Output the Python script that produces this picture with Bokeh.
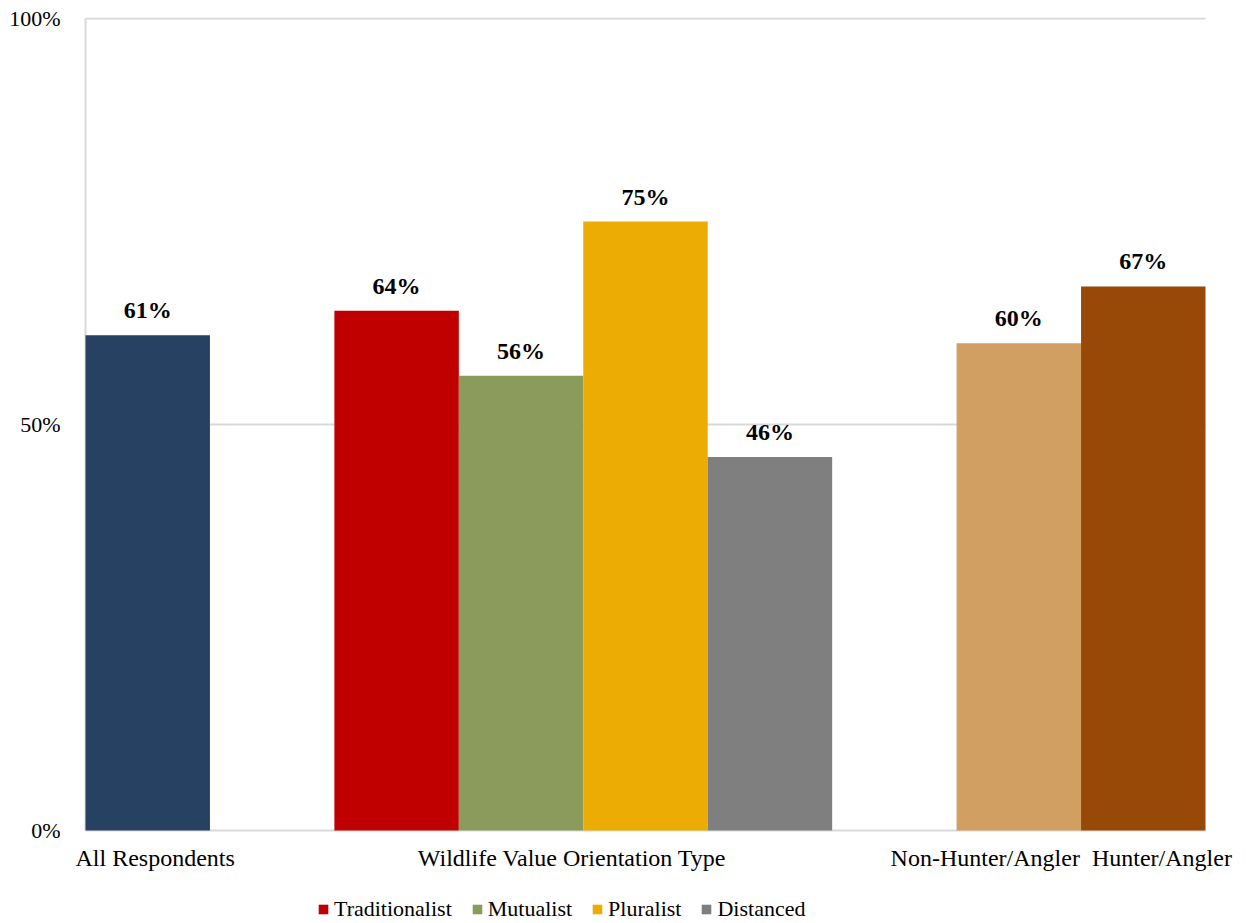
from bokeh.plotting import figure
from bokeh.models import (ColumnDataSource, Range1d, FixedTicker, Legend,
                          LegendItem, CustomJSTickFormatter)
from bokeh.core.properties import value
from bokeh.embed import file_html
from bokeh.resources import INLINE

# Share of respondents (%) by group
overall_label = "All Respondents"
overall_value = [61]
wvo_types = ["Traditionalist", "Mutualist", "Pluralist", "Distanced"]
wvo_values = [64, 56, 75, 46]
hunt_groups = ["Non-Hunter/Angler", "Hunter/Angler"]
hunt_values = [60, 67]
group_titles = ["All Respondents", "Wildlife Value Orientation Type",
                "Non-Hunter/Angler", "Hunter/Angler"]
y_ticks = [0, 50, 100]

overall_color = ["#264162"]
wvo_colors = ["#C00000", "#8A9B5B", "#EDAC03", "#7F7F7F"]
hunt_colors = ["#D19F62", "#984807"]

FONT = "Liberation Serif"
GRID = "#D9D9D9"

# The frame covers the whole area right of the tick labels and down to the
# canvas bottom, so titles and legend below the zero line are not clipped.
PX = 8.12      # px per percentage point
PXX = 124.44   # px per bar slot
p = figure(width=1246, height=923, output_backend="svg", toolbar_location=None,
           x_axis_location=None,
           x_range=Range1d(-15 / PXX, 9 + 41 / PXX),
           y_range=Range1d(-93 / PX, 813 / PX),
           min_border_left=70, min_border_right=0, min_border_top=17,
           min_border_bottom=0, outline_line_color=None)

# slot positions along the x axis (one slot per bar, with gaps between groups)
overall_x = [0.5]
wvo_x = [2.5 + i for i in range(len(wvo_types))]
hunt_x = [7.5 + i for i in range(len(hunt_groups))]

sources = [
    ColumnDataSource(dict(x=overall_x, top=overall_value, color=overall_color,
                          lab=[f"{v}%" for v in overall_value])),
    ColumnDataSource(dict(x=wvo_x, top=wvo_values, color=wvo_colors,
                          lab=[f"{v}%" for v in wvo_values])),
    ColumnDataSource(dict(x=hunt_x, top=hunt_values, color=hunt_colors,
                          lab=[f"{v}%" for v in hunt_values])),
]

# gridlines at 50% and 100%, baseline and left axis line
p.xgrid.visible = False
p.ygrid.visible = False
p.segment(x0=[0, 0], x1=[9, 9], y0=[50, 100], y1=[50, 100],
          line_color=GRID, line_width=2)
p.segment(x0=[0, 0], x1=[9, 0], y0=[0, 0], y1=[0, 100],
          line_color=GRID, line_width=2)

bar_renderers = []
for src in sources:
    r = p.vbar(x="x", top="top", width=1.0, bottom=0, fill_color="color",
               line_color=None, source=src)
    bar_renderers.append(r)
    p.text(x="x", y="top", text="lab", source=src, text_align="center",
           text_baseline="bottom", y_offset=-12, text_font=value(FONT),
           text_font_size="24px", text_font_style="bold", text_color="#000000")
wvo_renderer = bar_renderers[1]

# y axis: labels only
yax = p.yaxis[0]
yax.ticker = FixedTicker(ticks=y_ticks)
yax.formatter = CustomJSTickFormatter(code="return tick + '%';")
yax.major_tick_line_color = None
yax.minor_tick_line_color = None
yax.axis_line_color = None
yax.major_label_standoff = 4
yax.major_label_text_font = FONT
yax.major_label_text_font_size = "22px"
yax.major_label_text_color = "#000000"

# group titles under the baseline
label_x = [0.56, 3.91, 7.23, 8.65]
p.text(x=label_x, y=[-27 / PX] * len(label_x), text=group_titles,
       text_align="center", text_baseline="middle", text_font=value(FONT),
       text_font_size="24px", text_color="#000000")

legend = Legend(items=[LegendItem(label=t, renderers=[wvo_renderer], index=i)
                       for i, t in enumerate(wvo_types)],
                orientation="horizontal", location=(247, 1),
                glyph_width=12, glyph_height=12, label_standoff=5, spacing=19,
                label_text_font=FONT, label_text_font_size="22px",
                label_text_color="#000000",
                padding=0, margin=0, border_line_color=None,
                background_fill_alpha=0)
p.add_layout(legend, "center")

open("out.html", "w").write(file_html(p, INLINE))
